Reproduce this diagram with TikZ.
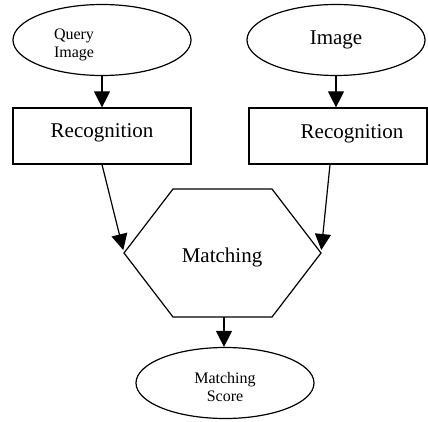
\documentclass[tikz,border=0pt]{standalone}
\usepackage{fontspec}
\setmainfont{Liberation Serif}
\usetikzlibrary{shapes.geometric,arrows.meta}

\tikzset{
    flow/.style={line width=1.2pt},
    oval/.style={flow, draw, ellipse, minimum width=178pt, minimum height=71pt, inner sep=0pt},
    recbox/.style={flow, draw, rectangle, minimum width=178pt, minimum height=56pt, inner sep=0pt},
    bigtext/.style={font=\fontsize{21}{24}\selectfont},
    smalltext/.style={font=\fontsize{16}{18.5}\selectfont, align=left},
    arrow/.style={flow, -{Triangle[length=16pt,width=16pt]}}
}

\begin{document}
\begin{tikzpicture}[x=1pt, y=-1pt]
    \useasboundingbox (0,0) rectangle (428,422);
    % inputs
    \node[oval, label={[smalltext, xshift=-28pt, yshift=-5pt]center:Query\\Image}] (query) at (102,40) {};
    \node[oval, bigtext] (image) at (336,40) {Image};
    % recognition
    \node[recbox, label={[bigtext, yshift=3pt]center:Recognition}] (recA) at (102,136) {};
    \node[recbox, label={[bigtext, xshift=14pt, yshift=2pt]center:Recognition}] (recB) at (338,136) {};
    % matching hexagon
    \coordinate (hexL) at (124,253);
    \coordinate (hexR) at (321,253);
    \coordinate (hexB) at (224,317);
    \draw[flow] (hexL) -- (173,189) -- (272,189) -- (hexR) -- (272,317) -- (173,317) -- cycle;
    \node[bigtext] (match) at (222,257) {Matching};
    % result
    \node[oval, label={[smalltext, align=center, yshift=-4pt]center:Matching\\Score}] (score) at (225,383) {};
    % connectors
    \draw[arrow] (query) -- (recA);
    \draw[arrow] (image) -- (recA.north -| image);
    \draw[arrow, shorten >=3pt] (recA.south) -- (hexL);
    \draw[arrow, shorten >=3pt] ([xshift=-8pt]recB.south) -- (hexR);
    \draw[arrow] (hexB) -- (score.north -| hexB);
\end{tikzpicture}
\end{document}
